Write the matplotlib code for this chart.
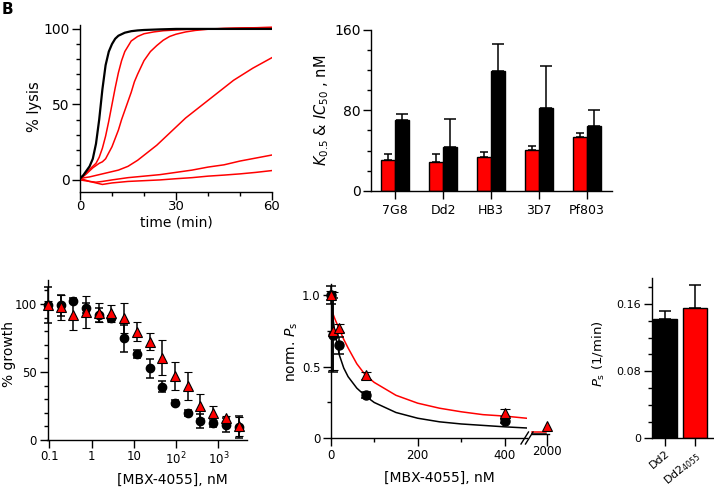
import numpy as np
import matplotlib
matplotlib.use("Agg")
import matplotlib.pyplot as plt
from matplotlib.lines import Line2D
from matplotlib.ticker import MultipleLocator, FixedLocator, NullLocator

plt.rcParams['font.family'] = ['DejaVu Sans']
plt.rcParams['axes.linewidth'] = 1.0
plt.rcParams['xtick.direction'] = 'out'
plt.rcParams['ytick.direction'] = 'out'

RED = '#ff0000'

# ---- A : lysis traces (% lysis vs time, min)
a_black_t = [0, 1, 2, 3, 4, 5, 6, 7, 8, 9, 10, 11, 12, 14, 16, 18, 20, 25, 30, 40, 50, 60]
a_black_v = [1, 3, 6, 9, 14, 24, 40, 60, 76, 85, 90, 93.5, 95.5, 97.5, 98.5, 99, 99.3, 99.7, 100, 100, 100, 100]
a_red1_t = [0, 1, 2, 3, 4, 5, 6, 7, 8, 9, 10, 11, 12, 13, 14, 16, 18, 20, 23, 26, 30, 35, 40, 50, 60]
a_red1_v = [1, 3, 5, 7, 9, 11, 15, 21, 29, 39, 50, 61, 71, 79, 85, 92, 95, 96.8, 98, 98.8, 99.3, 99.8, 100, 100.5, 101]
a_red2_t = [0, 2, 4, 6, 7, 8, 10, 12, 13, 14, 15, 16, 17, 18, 20, 22, 24, 26, 28, 30, 33, 36, 40, 45, 50, 60]
a_red2_v = [0.5, 4, 8, 11, 12, 14, 22, 33, 40, 46, 52, 58, 65, 70, 79, 85, 89, 92.5, 95, 96.5, 98, 99, 99.8, 100.3, 100.6, 101]
a_red3_t = [0, 3, 6, 9, 12, 15, 18, 21, 24, 27, 30, 33, 36, 39, 42, 45, 48, 51, 54, 57, 60]
a_red3_v = [1, 2, 3.5, 5, 6.5, 9, 13, 18, 23, 29, 35, 41, 46, 51, 56, 61, 66, 70, 74, 77.5, 81]
a_red4_t = [0, 3, 5, 7, 10, 15, 20, 25, 30, 35, 40, 45, 50, 55, 60]
a_red4_v = [0, -1, -1.5, -1, 0, 1.5, 2.5, 3.5, 5, 6.5, 8.5, 10, 12.5, 14.5, 16.5]
a_red5_t = [0, 3, 5, 7, 10, 15, 20, 25, 30, 35, 40, 45, 50, 55, 60]
a_red5_v = [1, -1, -2, -3, -2, -1, -0.5, 0, 0.8, 1.5, 2.5, 3.2, 4, 5, 6.2]

# ---- B : K0.5 (red) and IC50 (black), nM
b_strains = ['7G8', 'Dd2', 'HB3', '3D7', 'Pf803']
b_red = [30.3, 28.3, 33.3, 40.7, 53.3]
b_red_err = [6.4, 8.4, 5.4, 3.6, 3.7]
b_black = [70.3, 44, 118.7, 82, 64]
b_black_err = [6.4, 27.3, 27.6, 42.3, 16]

# ---- C : growth vs [MBX-4055]
c_conc = [0.0916, 0.183, 0.366, 0.732, 1.46, 2.93, 5.86, 11.7, 23.4, 46.9,
          93.75, 187.5, 375, 750, 1500, 3000]
c_black = [99.3, 99, 102.5, 97, 92, 89.5, 74.8, 63, 52.7, 39, 27.5, 20, 14, 12.3, 11, 9.8]
c_black_err = [13, 7.5, 2, 4, 5, 2, 10, 3, 7, 4, 2, 2, 5, 3, 5, 8]
c_red = [99, 97.5, 92, 94, 93.6, 93, 89.5, 79.7, 72.3, 60.5, 47, 39.7, 25, 20, 16, 10]
c_red_err = [3, 9, 11, 12, 7, 6, 11, 7, 6.5, 13, 10, 10.5, 9, 5, 2, 7]

# ---- D : normalised Ps vs [MBX-4055]
d_conc = [0, 5, 20, 80, 400]
d_black = [1.0, 0.72, 0.65, 0.30, 0.12]
d_black_err = [0.06, 0.26, 0.06, 0.02, 0.015]
d_red = [1.0, 0.75, 0.77, 0.44, 0.18]
d_red_err = [0.03, 0.27, 0.03, 0.025, 0.025]
d_fit_x = [0, 5, 10, 20, 30, 40, 60, 80, 100, 150, 200, 250, 300, 350, 400, 450]
d_fit_black = [1.0, 0.84, 0.73, 0.58, 0.49, 0.43, 0.35, 0.295, 0.25, 0.18, 0.14, 0.115, 0.10, 0.09, 0.08, 0.072]
d_fit_red = [0.91, 0.87, 0.83, 0.76, 0.69, 0.63, 0.52, 0.44, 0.39, 0.30, 0.245, 0.21, 0.185, 0.165, 0.155, 0.14]
d_hi_conc = [2000]
d_hi_red = [0.085]
d_hi_fit_x = [1650, 1980]
d_hi_fit_black = [0.030, 0.030]
d_hi_fit_red = [0.042, 0.042]

# ---- E : Ps (1/min)
e_labels = ['Dd2', 'Dd2$_{4055}$']
e_vals = [0.142, 0.155]
e_err = [0.010, 0.028]
e_colors = ['black', RED]

W, H = 714, 488
fig = plt.figure(figsize=(W / 100, H / 100), dpi=100)


def ax_px(l, t, r, b):
    return fig.add_axes([l / W, 1 - b / H, (r - l) / W, (b - t) / H])


def style(ax, size):
    for s in ('top', 'right'):
        ax.spines[s].set_visible(False)
    ax.tick_params(which='major', length=5.5, width=1.0, labelsize=size, pad=2)
    ax.tick_params(which='minor', length=3.2, width=1.0)


def label(x, y, s, size=10, rot=0):
    fig.text(x / W, 1 - y / H, s, ha='center', va='center', rotation=rot, fontsize=size)


# A
ax = ax_px(80, 25, 272, 192)
style(ax, 10)
for t, v in [(a_red5_t, a_red5_v), (a_red4_t, a_red4_v), (a_red3_t, a_red3_v),
             (a_red2_t, a_red2_v), (a_red1_t, a_red1_v)]:
    ax.plot(t, v, color=RED, lw=1.1)
ax.plot(a_black_t, a_black_v, color='black', lw=1.6)
ax.set_xlim(0, 60)
ax.set_ylim(-8, 102.6)
ax.set_xticks([0, 30, 60])
ax.set_yticks([0, 50, 100])
ax.xaxis.set_minor_locator(MultipleLocator(10))
ax.yaxis.set_minor_locator(FixedLocator(np.arange(0, 101, 10)))
ax.tick_params(axis='x', pad=0.5, labelsize=9.5)
label(35, 107, '% lysis', 10.5, 90)
label(176, 223, 'time (min)', 10)

# B
ax = ax_px(371, 30, 612, 190.7)
style(ax, 10)
xb = np.arange(len(b_strains))
ax.bar(xb - 0.15, b_red, 0.3, color=RED, edgecolor='black', lw=1.0, zorder=2)
ax.bar(xb + 0.15, b_black, 0.3, color='black', edgecolor='black', lw=1.0, zorder=2)
ax.errorbar(xb - 0.15, b_red, yerr=[np.zeros(5), b_red_err], fmt='none',
            ecolor='black', elinewidth=1.1, capsize=3, capthick=1.1, zorder=1)
ax.errorbar(xb + 0.15, b_black, yerr=[np.zeros(5), b_black_err], fmt='none',
            ecolor='black', elinewidth=1.1, capsize=4, capthick=1.1, zorder=1)
ax.set_xlim(-0.5, 4.52)
ax.set_ylim(0, 160)
ax.set_xticks(xb)
ax.set_xticklabels(b_strains, fontsize=9)
ax.set_yticks([0, 80, 160])
ax.yaxis.set_minor_locator(MultipleLocator(20))
ax.tick_params(axis='x', pad=4)
label(322, 110, '$K_{0.5}$ & $IC_{50}$ , nM', 10.5, 90)

# C
ax = ax_px(47.5, 280, 246.7, 440)
style(ax, 8.5)
ax.set_xscale('log')
ax.errorbar(c_conc, c_black, yerr=c_black_err, fmt='o', color='black', ms=6,
            ecolor='black', elinewidth=1.1, capsize=3, capthick=1.1, clip_on=False, zorder=3)
ax.errorbar(c_conc, c_red, yerr=c_red_err, fmt='^', mfc=RED, mec='black', mew=0.8, ms=6.5,
            ecolor='black', elinewidth=1.1, capsize=3, capthick=1.1, clip_on=False, zorder=4)
ax.set_xlim(0.09, 4650)
ax.set_ylim(0, 117.6)
ax.xaxis.set_major_locator(FixedLocator([0.1, 1, 10, 100, 1000]))
ax.xaxis.set_minor_locator(NullLocator())
ax.set_xticklabels(['0.1', '1', '10', '$10^2$', '$10^3$'])
ax.set_yticks([0, 50, 100])
ax.yaxis.set_minor_locator(MultipleLocator(10))
label(9, 354, '% growth', 10, 90)
label(172.5, 480, '[MBX-4055], nM', 10)

# D (broken x axis)
ax = ax_px(330.7, 283.5, 526.5, 438.3)
style(ax, 8.5)
ax.plot(d_fit_x, d_fit_black, color='black', lw=1.1)
ax.plot(d_fit_x, d_fit_red, color=RED, lw=1.1)
ax.errorbar(d_conc, d_black, yerr=d_black_err, fmt='o', color='black', ms=6.5,
            ecolor='black', elinewidth=1.1, capsize=3.5, capthick=1.1, clip_on=False, zorder=3)
ax.errorbar(d_conc, d_red, yerr=d_red_err, fmt='^', mfc=RED, mec='black', mew=0.8, ms=7,
            ecolor='black', elinewidth=1.1, capsize=3.5, capthick=1.1, clip_on=False, zorder=4)
ax.set_xlim(0, 450)
ax.set_ylim(0, 1.08)
ax.set_xticks([0, 200, 400])
ax.xaxis.set_minor_locator(FixedLocator([100, 300]))
ax.set_yticks([0, 0.5, 1.0])
ax.set_yticklabels(['0', '0.5', '1.0'])
ax.yaxis.set_minor_locator(FixedLocator([0.25, 0.75]))
label(292, 352, 'norm. $P_\\mathrm{s}$', 10, 90)
label(439, 478, '[MBX-4055], nM', 10)

ax2 = ax_px(532, 283.5, 549, 434.3)
style(ax2, 8.5)
ax2.spines['left'].set_visible(False)
ax2.plot(d_hi_fit_x, d_hi_fit_black, color='black', lw=1.1, clip_on=False)
ax2.plot(d_hi_fit_x, d_hi_fit_red, color=RED, lw=1.1, clip_on=False)
ax2.plot(d_hi_conc, d_hi_red, '^', mfc=RED, mec='black', mew=0.8, ms=7, clip_on=False)
ax2.set_xlim(1650, 2050)
ax2.set_ylim(0.028, 1.08)
ax2.set_yticks([])
ax2.set_xticks([2000])
ax2.tick_params(axis='x', length=8.5, pad=-1)
for dx in (0, 4.5):
    fig.add_artist(Line2D([(521 + dx) / W, (528.5 + dx) / W], [1 - 444 / H, 1 - 432 / H],
                          color='black', lw=1.0))

# E
ax = ax_px(651.7, 278, 713, 438.3)
style(ax, 8)
xe = np.arange(len(e_vals))
ax.bar(xe, e_vals, 0.78, color=e_colors, edgecolor='black', lw=1.0, zorder=2)
ax.errorbar(xe, e_vals, yerr=[np.zeros(2), e_err], fmt='none', ecolor='black',
            elinewidth=1.1, capsize=4.5, capthick=1.1, zorder=1)
ax.set_xlim(-0.44, 1.6)
ax.set_ylim(0, 0.191)
ax.set_xticks(xe)
ax.set_xticklabels(e_labels, rotation=40, ha='right', rotation_mode='anchor', fontsize=8)
ax.set_yticks([0, 0.08, 0.16])
ax.set_yticklabels(['0', '0.08', '0.16'])
ax.yaxis.set_minor_locator(MultipleLocator(0.02))
label(599, 354, '$P_\\mathrm{s}$ (1/min)', 9.5, 90)

fig.text(2 / W, 1 - 2 / H, 'B', ha='left', va='top', fontsize=11, fontweight='bold')

fig.savefig('out.png', dpi=100)
